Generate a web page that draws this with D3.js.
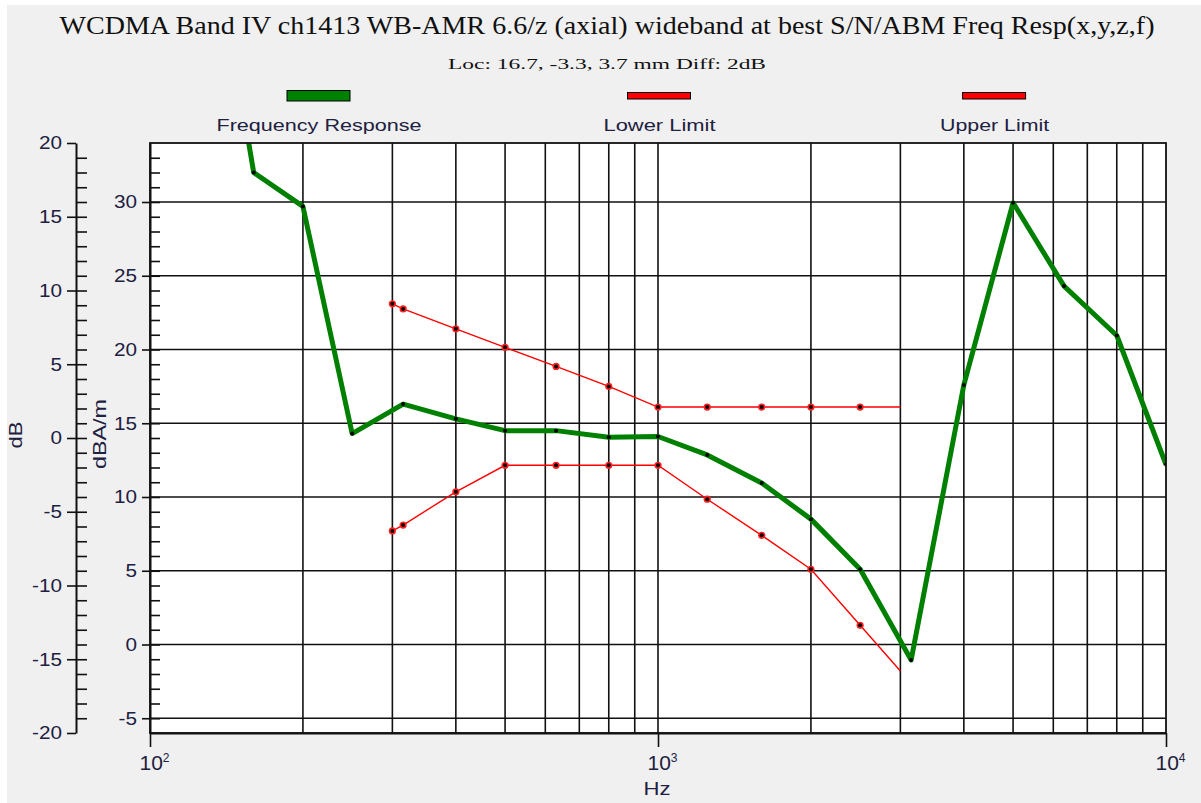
<!DOCTYPE html>
<html><head><meta charset="utf-8">
<script src="https://cdn.jsdelivr.net/npm/d3@7/dist/d3.min.js"></script>
<style>body{margin:0;background:#fff}svg{display:block}</style>
</head><body>
<svg id="c" width="1201" height="803"></svg>
<script>
// ---------- data ----------
const titleText = "WCDMA Band IV ch1413 WB-AMR 6.6/z (axial) wideband at best S/N/ABM Freq Resp(x,y,z,f)";
const subtitleText = "Loc: 16.7, -3.3, 3.7 mm Diff: 2dB";
const legendLabels = ["Frequency Response", "Lower Limit", "Upper Limit"];
const legendColors = ["#008000", "#ff0000", "#ff0000"];

const respFreqs = [125, 160, 200, 250, 315, 400, 500, 630, 800, 1000, 1250, 1600, 2000, 2500, 3150, 4000, 5000, 6300, 8000, 10000];
const respValues = [54, 32.0, 29.7, 14.3, 16.3, 15.3, 14.5, 14.5, 14.05, 14.1, 12.85, 10.95, 8.5, 5.1, -1.05, 17.6, 29.95, 24.3, 20.95, 12.2];

const limitFreqs = [300, 315, 400, 500, 630, 800, 1000, 1250, 1600, 2000, 2500, 3000];
const upperValues = [23.1, 22.75, 21.4, 20.15, 18.85, 17.5, 16.1, 16.1, 16.1, 16.1, 16.1, 16.1];
const lowerValues = [7.7, 8.1, 10.35, 12.15, 12.15, 12.15, 12.15, 9.85, 7.4, 5.1, 1.3, -1.8];

const leftTicks = [-20, -15, -10, -5, 0, 5, 10, 15, 20];
const rightTicks = [-5, 0, 5, 10, 15, 20, 25, 30];
const xMajorTicks = [100, 1000, 10000];
const xGridTicks = [200, 300, 400, 500, 600, 700, 800, 900, 1000, 2000, 3000, 4000, 5000, 6000, 7000, 8000, 9000];

// ---------- layout ----------
const L = 150, R = 1166, T = 143, B = 733;
const svg = d3.select("#c");
const x = d3.scaleLog().domain([100, 10000]).range([L, R]);
const yR = d3.scaleLinear().domain([-6, 34]).range([B, T]);
const yL = d3.scaleLinear().domain([-20, 20]).range([B, T]);
const ink = "#111";
const txt = "#202040";
const sans = "'Liberation Sans', Arial, sans-serif";
const serif = "'Liberation Serif', 'Times New Roman', serif";

svg.append("rect").attr("width", 1201).attr("height", 803).attr("fill", "#fff");
svg.append("rect").attr("x", 7).attr("y", 5).attr("width", 1194).attr("height", 798).attr("fill", "#f0f0f0");

function stretch(sel, f) {
  sel.each(function () {
    const w = this.getComputedTextLength();
    d3.select(this).attr("textLength", w * f).attr("lengthAdjust", "spacingAndGlyphs");
  });
}

// title
svg.append("text").attr("x", 607).attr("y", 34).attr("text-anchor", "middle")
  .attr("font-family", serif).attr("font-size", 25).attr("fill", "#111")
  .attr("textLength", 1095).attr("lengthAdjust", "spacingAndGlyphs").text(titleText);
svg.append("text").attr("x", 607).attr("y", 69).attr("text-anchor", "middle")
  .attr("font-family", serif).attr("font-size", 15).attr("fill", "#111")
  .attr("textLength", 318).attr("lengthAdjust", "spacingAndGlyphs").text(subtitleText);

// legend
const legX = [319, 659.5, 994.6];
const legW = [205, 112, 109];
legendLabels.forEach((lab, i) => {
  const isG = i === 0;
  svg.append("rect").attr("x", legX[i] - 32).attr("y", isG ? 90.5 : 92.5)
    .attr("width", 63).attr("height", isG ? 10.5 : 6.5)
    .attr("fill", legendColors[i]).attr("stroke", "#000").attr("stroke-width", 1);
  svg.append("text").attr("x", legX[i]).attr("y", 131).attr("text-anchor", "middle")
    .attr("font-family", sans).attr("font-size", 16).attr("fill", txt)
    .attr("textLength", legW[i]).attr("lengthAdjust", "spacingAndGlyphs").text(lab);
});

// plot area
svg.append("rect").attr("x", L).attr("y", T).attr("width", R - L).attr("height", B - T).attr("fill", "#fff");
svg.append("defs").append("clipPath").attr("id", "clip")
  .append("rect").attr("x", L).attr("y", T).attr("width", R - L).attr("height", B - T);

const grid = svg.append("g").attr("stroke", ink).attr("stroke-width", 1.6);
grid.selectAll("line.v").data(xGridTicks).join("line")
  .attr("x1", d => x(d)).attr("x2", d => x(d)).attr("y1", T).attr("y2", B);
grid.selectAll("line.h").data(rightTicks).join("line").attr("class", "h")
  .attr("x1", L).attr("x2", R).attr("y1", d => yR(d)).attr("y2", d => yR(d));

const plot = svg.append("g").attr("clip-path", "url(#clip)");
const lineGen = d3.line().x(d => x(d[0])).y(d => yR(d[1]));
const upper = limitFreqs.map((f, i) => [f, upperValues[i]]);
const lower = limitFreqs.map((f, i) => [f, lowerValues[i]]);
const resp = respFreqs.map((f, i) => [f, respValues[i]]);

[upper, lower].forEach(series => {
  plot.append("path").datum(series).attr("d", lineGen)
    .attr("fill", "none").attr("stroke", "#ff0000").attr("stroke-width", 1.4);
  const pts = series.slice(0, -1);
  plot.selectAll(null).data(pts).join("circle")
    .attr("cx", d => x(d[0])).attr("cy", d => yR(d[1])).attr("r", 3.6).attr("fill", "#ff2020");
  plot.selectAll(null).data(pts).join("circle")
    .attr("cx", d => x(d[0])).attr("cy", d => yR(d[1])).attr("r", 2).attr("fill", "#000");
});

plot.append("path").datum(resp).attr("d", lineGen)
  .attr("fill", "none").attr("stroke", "#008000").attr("stroke-width", 5).attr("stroke-linejoin", "round");
plot.selectAll(null).data(resp).join("circle")
  .attr("cx", d => x(d[0])).attr("cy", d => yR(d[1])).attr("r", 2).attr("fill", "#000");

svg.append("rect").attr("x", L).attr("y", T).attr("width", R - L).attr("height", B - T)
  .attr("fill", "none").attr("stroke", ink).attr("stroke-width", 1.8);

// axes
function styleAxis(g) {
  g.selectAll("line").attr("stroke", ink).attr("stroke-width", 1.6);
  g.selectAll(".domain").attr("stroke", ink).attr("stroke-width", 2);
  g.selectAll("text").attr("font-family", sans).attr("font-size", 18).attr("fill", txt);
}
const gL = svg.append("g").attr("transform", "translate(76,0)");
gL.call(d3.axisLeft(yL).tickValues(leftTicks).tickSize(9).tickSizeOuter(0).tickPadding(5).tickFormat(d => String(d)));
gL.append("g").call(d3.axisRight(yL).tickValues(d3.range(-19, 20)).tickSize(11).tickSizeOuter(0).tickFormat(""))
  .select(".domain").remove();
styleAxis(gL);
stretch(gL.selectAll(".tick text"), 1.15);

const gR = svg.append("g").attr("transform", `translate(${L},0)`);
gR.call(d3.axisLeft(yR).tickValues(rightTicks).tickSize(8).tickSizeOuter(0).tickPadding(5).tickFormat(d => String(d)));
gR.append("g").call(d3.axisRight(yR).tickValues(d3.range(-5, 34)).tickSize(10).tickSizeOuter(0).tickFormat(""))
  .select(".domain").remove();
styleAxis(gR);
stretch(gR.selectAll(".tick text"), 1.15);

const gB = svg.append("g").attr("transform", `translate(0,${B})`);
gB.call(d3.axisBottom(x).tickValues(xMajorTicks).tickSize(14).tickSizeOuter(0).tickFormat(""));
styleAxis(gB);
gB.selectAll(".tick text").remove();
gB.selectAll(".tick").each(function (d) {
  const t = d3.select(this).append("text").attr("x", -11).attr("y", 37).attr("text-anchor", "start")
    .attr("font-family", sans).attr("fill", txt);
  t.append("tspan").attr("font-size", 21).text("10");
  t.append("tspan").attr("font-size", 12).attr("dy", -8).text(String(Math.round(Math.log10(d))));
});

// axis titles
svg.append("text").attr("x", 657).attr("y", 795).attr("text-anchor", "middle")
  .attr("font-family", sans).attr("font-size", 19).attr("fill", txt)
  .attr("textLength", 27).attr("lengthAdjust", "spacingAndGlyphs").text("Hz");
svg.append("text").attr("transform", "translate(22,435) rotate(-90)").attr("text-anchor", "middle")
  .attr("font-family", sans).attr("font-size", 19).attr("fill", txt)
  .attr("textLength", 27).attr("lengthAdjust", "spacingAndGlyphs").text("dB");
svg.append("text").attr("transform", "translate(106,434) rotate(-90)").attr("text-anchor", "middle")
  .attr("font-family", sans).attr("font-size", 19).attr("fill", txt)
  .attr("textLength", 70).attr("lengthAdjust", "spacingAndGlyphs").text("dBA/m");
</script>
</body></html>
